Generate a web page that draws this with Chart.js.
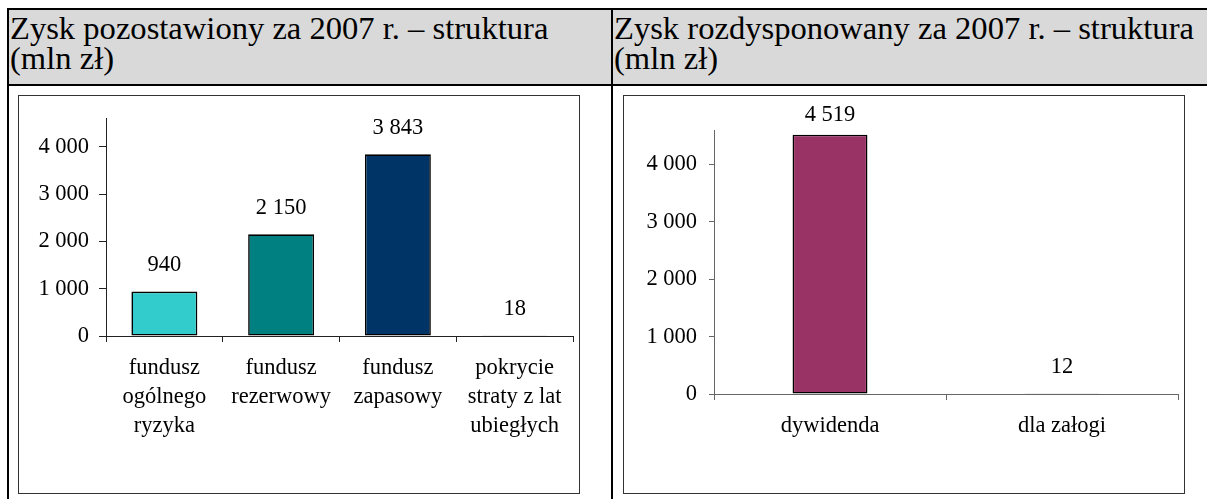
<!DOCTYPE html>
<html>
<head>
<meta charset="utf-8">
<script src="https://cdn.jsdelivr.net/npm/chart.js@4.4.0/dist/chart.umd.min.js"></script>
<style>
    body { margin: 0; background: #fff; font-family: 'Liberation Serif', 'Times New Roman', serif; }
    .abs { position: absolute; }
    .line { position: absolute; background: #000; }
    .head { position: absolute; font-size: 32.6px; line-height: 29.5px; color: #000; white-space: nowrap; }
    .box { position: absolute; box-sizing: border-box; border: 1px solid #333; pointer-events: none; }
</style>
</head>
<body>
<div class="abs" style="left:9px;top:10px;width:1198px;height:74px;background:#d9d9d9"></div>
<div class="line" style="left:7px;top:8px;width:1200px;height:2px"></div>
<div class="line" style="left:7px;top:84px;width:1200px;height:2px"></div>
<div class="line" style="left:7px;top:8px;width:2px;height:491px"></div>
<div class="line" style="left:611px;top:8px;width:2px;height:491px"></div>

<div class="head" style="left:10px;top:14px">Zysk pozostawiony za 2007 r. – struktura<br>(mln zł)</div>
<div class="head" style="left:614px;top:14px">Zysk rozdysponowany za 2007 r. – struktura<br>(mln zł)</div>

<canvas id="chartLeft" class="abs" width="562" height="399" style="left:18px;top:95px"></canvas>
<canvas id="chartRight" class="abs" width="562" height="399" style="left:623px;top:95px"></canvas>
<div class="box" style="left:18px;top:95px;width:562px;height:399px"></div>
<div class="box" style="left:623px;top:95px;width:562px;height:399px"></div>

<script>
// data
const leftCategories = [
    ['fundusz', 'ogólnego', 'ryzyka'],
    ['fundusz', 'rezerwowy'],
    ['fundusz', 'zapasowy'],
    ['pokrycie', 'straty z lat', 'ubiegłych']
];
const leftValues = [940, 2150, 3843, 18];
const leftColors = ['#33cccc', '#008080', '#003366', '#003366'];

const rightCategories = ['dywidenda', 'dla załogi'];
const rightValues = [4519, 12];
const rightColors = ['#993366', '#993366'];

const yTicks = [0, 1000, 2000, 3000, 4000];
const axisMax = 4600;

const serif = "'Liberation Serif', 'Times New Roman', serif";
const fontSize = 22.5;

function spaced(v) {
    return String(Math.round(v)).replace(/\B(?=(\d{3})+(?!\d))/g, '\u00a0');
}

// value labels above the bars
const barLabels = {
    id: 'barLabels',
    afterDatasetsDraw(chart, args, opts) {
        const ctx = chart.ctx;
        const meta = chart.getDatasetMeta(0);
        const values = chart.data.datasets[0].data;
        ctx.save();
        ctx.font = fontSize + 'px ' + serif;
        ctx.fillStyle = '#000';
        ctx.textAlign = 'center';
        ctx.textBaseline = 'middle';
        meta.data.forEach((bar, i) => {
            const y = Math.max(bar.y - opts.offset, chart.chartArea.top - opts.above);
            ctx.fillText(spaced(values[i]), bar.x, y);
        });
        ctx.restore();
    }
};

function makeChart(canvasId, cfg) {
    const ctx = document.getElementById(canvasId);
    return new Chart(ctx, {
        type: 'bar',
        data: {
            labels: cfg.labels,
            datasets: [{
                data: cfg.values,
                backgroundColor: cfg.colors,
                borderColor: '#000',
                borderWidth: 1.6,
                borderSkipped: false,
                barPercentage: cfg.barPct,
                categoryPercentage: 1
            }]
        },
        options: {
            responsive: false,
            animation: false,
            layout: { padding: { left: 0, right: 7, top: cfg.top, bottom: 0 } },
            plugins: {
                legend: { display: false },
                tooltip: { enabled: false },
                barLabels: { offset: 26, above: 15 }
            },
            scales: {
                x: {
                    grid: { display: true, drawOnChartArea: false, drawTicks: true, tickLength: 6, offset: true, color: cfg.axisColor },
                    border: { display: true, color: cfg.axisColor, width: 1 },
                    ticks: {
                        color: '#000',
                        font: { family: serif, size: fontSize, lineHeight: 1.3 },
                        padding: 11,
                        maxRotation: 0,
                        autoSkip: false
                    },
                    afterFit(scale) { scale.height = cfg.xHeight; }
                },
                y: {
                    min: 0,
                    max: axisMax,
                    grid: { display: true, drawOnChartArea: false, drawTicks: true, tickLength: cfg.tickLen, color: cfg.axisColor },
                    border: { display: true, color: cfg.axisColor, width: 1 },
                    ticks: {
                        color: '#000',
                        autoSkip: false,
                        font: { family: serif, size: fontSize },
                        padding: cfg.tickPad,
                        callback: v => spaced(v)
                    },
                    afterBuildTicks(scale) {
                        scale.ticks = yTicks.map(v => ({ value: v }));
                    },
                    afterFit(scale) { scale.width = cfg.yWidth; }
                }
            }
        },
        plugins: [barLabels]
    });
}

makeChart('chartLeft', {
    labels: leftCategories, values: leftValues, colors: leftColors,
    barPct: 0.565, top: 19, xHeight: 158, yWidth: 88,
    tickLen: 7, tickPad: 10, axisColor: '#222'
});

makeChart('chartRight', {
    labels: rightCategories, values: rightValues, colors: rightColors,
    barPct: 0.323, top: 35, xHeight: 100, yWidth: 91,
    tickLen: 5, tickPad: 12, axisColor: '#666'
});
</script>
</body>
</html>
